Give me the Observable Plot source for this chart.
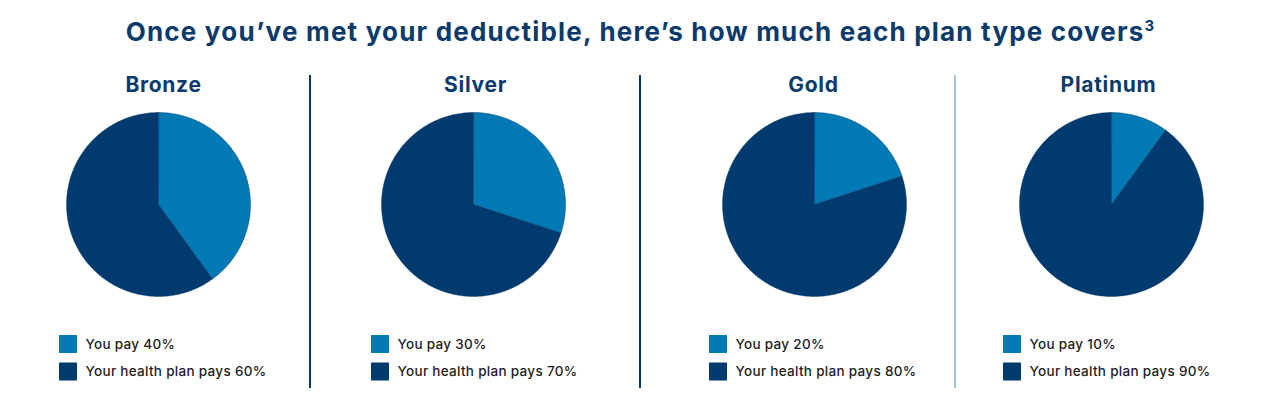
<!DOCTYPE html>
<html><head><meta charset="utf-8">
<script src="https://cdn.jsdelivr.net/npm/d3@7"></script>
<script src="https://cdn.jsdelivr.net/npm/@observablehq/plot@0.6"></script>
<style>
html,body{margin:0;padding:0;background:#fff;}
#page{position:relative;width:1280px;height:399px;overflow:hidden;font-family:Inter,"Open Sans",sans-serif;}
#title{position:absolute;left:0;width:1280px;top:19px;text-align:center;font-size:26px;line-height:25px;font-weight:700;letter-spacing:1.2px;color:#0b3a6b;white-space:nowrap;}
#title sup{font-size:15px;vertical-align:0;position:relative;top:-10px;letter-spacing:0;}
#row{position:absolute;left:0;top:60px;display:flex;}
.panel{position:relative;height:339px;}
.divider{position:absolute;left:-1px;top:15px;width:1.5px;height:313px;}
</style></head><body>
<div id="page"><div id="title">Once you’ve met your deductible, here’s how much each plan type covers<sup>3</sup></div><div id="row"></div></div>
<script>
// ---- data ----
const plans = ["Bronze", "Silver", "Gold", "Platinum"];
const youPay = [40, 30, 20, 10];
const planPays = [60, 70, 80, 90];
const sliceNames = ["You pay", "Your health plan pays"];

// ---- layout / style ----
const panelWidths = [310, 330, 315, 325];
const pieCenterX = [158, 163, 174, 156];
const titleX = [163, 165, 173, 153];
const legendLeft = [59, 61, 69, 48];
const dividerColors = [null, "#003a70", "#003a70", "#a9bdd6"];
const sliceColors = ["#0079b4", "#003a6e"];
const R = 92, H = 339, CY = 144;
const FONT = "Inter, 'Open Sans', sans-serif";

const row = document.getElementById("row");

plans.forEach((plan, i) => {
  const w = panelWidths[i], c = pieCenterX[i];
  const ux = px => (px - c) / R;
  const uy = py => (CY - py) / R;

  const slices = sliceNames.map((name, k) => ({name, value: k === 0 ? youPay[i] : planPays[i], color: sliceColors[k]}));
  const arcs = d3.pie().sort(null).value(d => d.value)(slices);
  // polygon outline of each wedge (centre + arc edge), angles from d3.pie
  const wedgePts = arcs.map(a => {
    const n = Math.max(2, Math.ceil((a.endAngle - a.startAngle) / (Math.PI / 180)));
    const pts = [{x: 0, y: 0}];
    for (let k = 0; k <= n; k++) {
      const t = a.startAngle + (a.endAngle - a.startAngle) * k / n;
      pts.push({x: Math.sin(t), y: Math.cos(t)});
    }
    return {pts, color: a.data.color};
  });

  const legendRows = slices.map((s, k) => ({
    label: `${s.name} ${s.value}%`,
    color: s.color,
    yc: k === 0 ? 284 : 311.5
  }));

  const chart = Plot.plot({
    width: w, height: H,
    margin: 0,
    x: {domain: [ux(0), ux(w)], axis: null},
    y: {domain: [uy(H), uy(0)], axis: null},
    style: {fontFamily: FONT, background: "transparent"},
    marks: [
      ...wedgePts.map(wp => Plot.line(wp.pts, {x: "x", y: "y", curve: "linear-closed", fill: wp.color, stroke: "#06315e", strokeWidth: 0.4})),
      Plot.text([plan], {x: ux(titleX[i]), y: uy(25), text: d => d, fontSize: 21, fontWeight: 700, fill: "#0b3a6b", fontFamily: FONT, textAnchor: "middle", style: "letter-spacing:0.7px"}),
      Plot.rect(legendRows, {x1: ux(legendLeft[i]), x2: ux(legendLeft[i] + 18), y1: d => uy(d.yc - 9), y2: d => uy(d.yc + 9), fill: d => d.color}),
      Plot.text(legendRows, {x: ux(legendLeft[i] + 26), y: d => uy(d.yc), text: "label", textAnchor: "start", fontSize: 13.5, fontWeight: 500, fill: "#1e1e1e", fontFamily: FONT})
    ]
  });
  chart.querySelectorAll("text").forEach(t => {
    if (t.textContent === plan) t.setAttribute("letter-spacing", "0.7");
    else t.setAttribute("letter-spacing", "0.3");
  });

  const panel = document.createElement("div");
  panel.className = "panel";
  panel.style.width = w + "px";
  panel.appendChild(chart);
  if (dividerColors[i]) {
    const dv = document.createElement("div");
    dv.className = "divider";
    dv.style.background = dividerColors[i];
    panel.appendChild(dv);
  }
  row.appendChild(panel);
});
</script>
</body></html>
